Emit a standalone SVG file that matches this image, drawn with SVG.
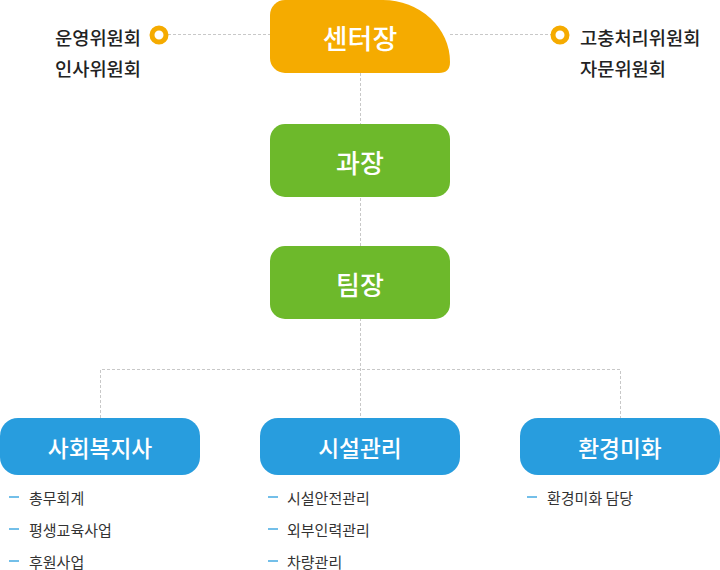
<svg xmlns="http://www.w3.org/2000/svg" width="720" height="570" viewBox="0 0 720 570">
<style>
text{font-family:"Noto Sans CJK KR","Noto Sans",sans-serif}
.t{fill:#fff;font-weight:500;text-anchor:middle;dominant-baseline:central}
.side{fill:#222;font-size:18.7px;font-weight:500;dominant-baseline:central}
.li{fill:#333;font-size:15px;dominant-baseline:central}
.dash{stroke:#289dde;stroke-width:1.3}
.conn{stroke:#c8c8c8;stroke-width:1;stroke-dasharray:3 2;fill:none}
.ring{fill:#fff;stroke:#f5ab00;stroke-width:5}
</style>
<g id="connectors">
<line class="conn" x1="168" y1="34.5" x2="270" y2="34.5"/>
<line class="conn" x1="450" y1="34.5" x2="551" y2="34.5"/>
<line class="conn" x1="360.5" y1="73" x2="360.5" y2="418"/>
<polyline class="conn" points="100.5,418 100.5,369.5 620.5,369.5 620.5,418"/>
</g>
<g id="center-head">
<path d="M285,0 H383 A67,62 0 0 1 450,62 Q450,73 439,73 H285 A15,15 0 0 1 270,58 V15 A15,15 0 0 1 285,0 Z" fill="#f5ab00"/>
<text class="t" x="360" y="37" font-size="27">센터장</text>
</g>
<g id="committees-left">
<circle class="ring" cx="159" cy="35" r="7"/>
<text class="side" x="55" y="36">운영위원회</text>
<text class="side" x="55" y="67">인사위원회</text>
</g>
<g id="committees-right">
<circle class="ring" cx="560" cy="35" r="7"/>
<text class="side" x="580" y="36">고충처리위원회</text>
<text class="side" x="580" y="67">자문위원회</text>
</g>
<g id="section-chief">
<rect x="270" y="124" width="180" height="73" rx="15" fill="#6db92b"/>
<text class="t" x="360" y="161" font-size="26">과장</text>
</g>
<g id="team-leader">
<rect x="270" y="246" width="180" height="73" rx="15" fill="#6db92b"/>
<text class="t" x="360" y="283" font-size="26">팀장</text>
</g>
<g id="social-worker">
<rect x="0" y="418" width="200" height="57" rx="18" fill="#289dde"/>
<text class="t" x="100" y="447" font-size="22.7">사회복지사</text>
<line class="dash" x1="9" y1="497" x2="19" y2="497"/>
<text class="li" x="29" y="497">총무회계</text>
<line class="dash" x1="9" y1="529" x2="19" y2="529"/>
<text class="li" x="29" y="529">평생교육사업</text>
<line class="dash" x1="9" y1="561" x2="19" y2="561"/>
<text class="li" x="29" y="561">후원사업</text>
</g>
<g id="facility">
<rect x="260" y="418" width="200" height="57" rx="18" fill="#289dde"/>
<text class="t" x="360" y="447" font-size="22.7">시설관리</text>
<line class="dash" x1="268" y1="497" x2="278" y2="497"/>
<text class="li" x="287" y="497">시설안전관리</text>
<line class="dash" x1="268" y1="529" x2="278" y2="529"/>
<text class="li" x="287" y="529">외부인력관리</text>
<line class="dash" x1="268" y1="561" x2="278" y2="561"/>
<text class="li" x="287" y="561">차량관리</text>
</g>
<g id="environment">
<rect x="520" y="418" width="200" height="57" rx="18" fill="#289dde"/>
<text class="t" x="620" y="447" font-size="22.7">환경미화</text>
<line class="dash" x1="527" y1="497" x2="537" y2="497"/>
<text class="li" x="547" y="497">환경미화 담당</text>
</g>
</svg>
